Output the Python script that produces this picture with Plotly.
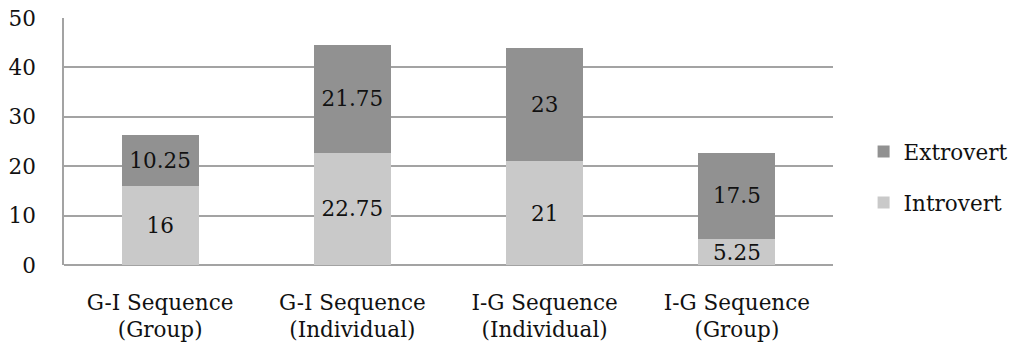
import plotly.graph_objects as go

# Mean scores per sequence condition, split by personality type
categories = [
    "G-I Sequence<br>(Group)",
    "G-I Sequence<br>(Individual)",
    "I-G Sequence<br>(Individual)",
    "I-G Sequence<br>(Group)",
]
introvert = [16, 22.75, 21, 5.25]
extrovert = [10.25, 21.75, 23, 17.5]
y_ticks = [0, 10, 20, 30, 40, 50]

FONT = "DejaVu Serif"
SIZE = 21.5
GRID = "#a3a3a3"

fig = go.Figure()
fig.add_trace(go.Bar(
    name="Introvert", x=categories, y=introvert,
    marker=dict(color="#c9c9c9", line=dict(width=0)),
    text=[f"{v:g}" for v in introvert], textposition="inside",
    insidetextanchor="middle", constraintext="none",
    textfont=dict(family=FONT, size=SIZE, color="#111111"),
    legendgroup="intro", legendrank=2,
))
fig.add_trace(go.Bar(
    name="Extrovert", x=categories, y=extrovert,
    marker=dict(color="#919191", line=dict(width=0)),
    text=[f"{v:g}" for v in extrovert], textposition="inside",
    insidetextanchor="middle", constraintext="none",
    textfont=dict(family=FONT, size=SIZE, color="#111111"),
    legendgroup="extro", legendrank=1,
))

fig.update_layout(
    barmode="stack",
    bargap=0.6,
    width=1016, height=347,
    margin=dict(l=64, r=183, t=18, b=82, autoexpand=False),
    paper_bgcolor="white", plot_bgcolor="white",
    font=dict(family=FONT, size=SIZE, color="#111111"),
    legend=dict(
        xref="container", yref="container",
        x=0.850, y=0.49, xanchor="left", yanchor="middle",
        traceorder="grouped", tracegroupgap=20,
        font=dict(family=FONT, size=SIZE, color="#111111"),
        itemwidth=30,
    ),
    xaxis=dict(
        showgrid=False, showline=False, ticks="",
        tickfont=dict(family=FONT, size=SIZE),
        ticklabelstandoff=22, automargin=False,
    ),
    yaxis=dict(
        range=[0, 50], tickvals=y_ticks,
        showgrid=True, gridcolor=GRID, gridwidth=1.5,
        showline=True, linecolor=GRID, linewidth=1.5,
        zeroline=True, zerolinecolor=GRID, zerolinewidth=1.5,
        ticks="", ticklabelstandoff=22, automargin=False,
        tickfont=dict(family=FONT, size=SIZE),
    ),
)

fig.write_html("out.html")
